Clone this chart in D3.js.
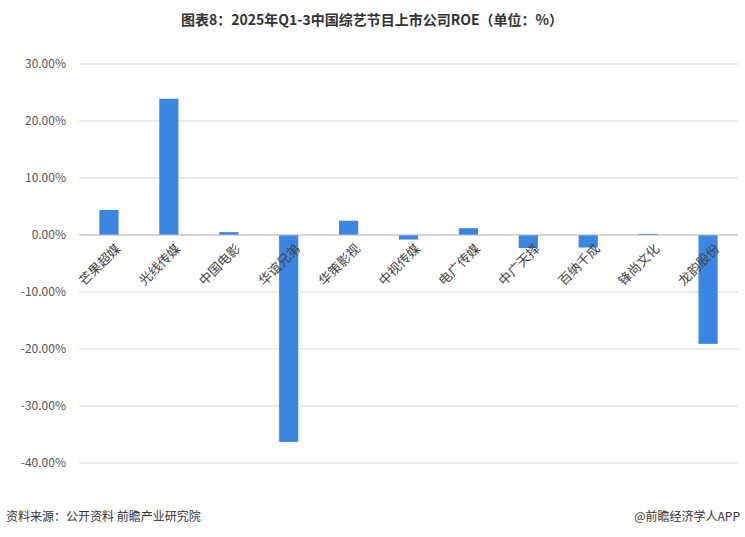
<!DOCTYPE html><html><head><meta charset="utf-8"><script src="https://cdn.jsdelivr.net/npm/d3@7"></script>
<style>body{margin:0;background:#fff}</style></head><body><svg id="c" width="745" height="537"></svg>
<script>
const categories=["芒果超媒","光线传媒","中国电影","华谊兄弟","华策影视","中视传媒","电广传媒","中广天择","百纳千成","锋尚文化","龙韵股份"];
const values=[4.4,23.9,0.5,-36.3,2.5,-0.8,1.2,-2.3,-2.2,0.2,-19.1];
const ticks=[30,20,10,0,-10,-20,-30,-40];
const svg=d3.select("#c");const F="'Noto Sans CJK SC','Noto Sans',sans-serif";
const x=d3.scaleBand().domain(categories).range([79,738]).paddingInner(0.68).paddingOuter(0.34);
const y=d3.scaleLinear().domain([-40,30]).range([463,64]);
svg.append("text").attr("x",372).attr("y",25).attr("text-anchor","middle").attr("font-family",F).attr("font-weight","bold").attr("font-size",14).attr("fill","#333").text("图表8：2025年Q1-3中国综艺节目上市公司ROE（单位：%）");
svg.append("g").selectAll("line").data(ticks).join("line").attr("x1",79).attr("x2",738).attr("y1",d=>y(d)).attr("y2",d=>y(d)).attr("stroke","#d9d9d9");
svg.append("g").selectAll("text").data(ticks).join("text").attr("x",66).attr("y",d=>y(d)+4).attr("text-anchor","end").attr("font-family",F).attr("font-size",12).attr("fill","#555").text(d=>d.toFixed(2)+"%");
svg.append("g").selectAll("rect").data(values).join("rect").attr("x",(d,i)=>x(categories[i])).attr("width",x.bandwidth()).attr("y",d=>y(Math.max(0,d))).attr("height",d=>Math.abs(y(d)-y(0))).attr("fill","#3b86e3");
svg.append("line").attr("x1",79).attr("x2",738).attr("y1",y(0)).attr("y2",y(0)).attr("stroke","#bfbfbf");
svg.append("g").selectAll("text").data(categories).join("text").attr("transform",d=>`translate(${x(d)+x.bandwidth()/2+6},${y(0)+8}) rotate(-45)`).attr("text-anchor","end").attr("dy","0.7em").attr("font-family",F).attr("font-size",13).attr("fill","#444").text(d=>d);
svg.append("text").attr("x",6).attr("y",521).attr("font-family",F).attr("font-size",12).attr("fill","#333").text("资料来源：公开资料 前瞻产业研究院");
svg.append("text").attr("x",740).attr("y",521).attr("text-anchor","end").attr("font-family",F).attr("font-size",12).attr("fill","#333").text("@前瞻经济学人APP");
</script></body></html>
